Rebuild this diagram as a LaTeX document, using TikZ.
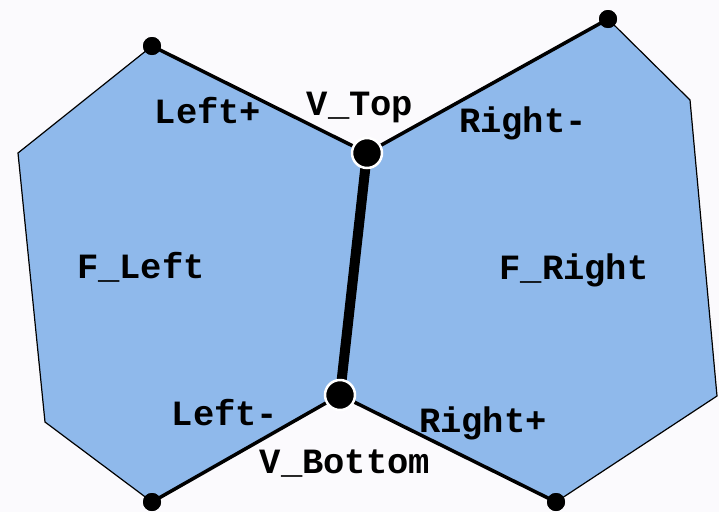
\documentclass[tikz,border=0pt]{standalone}
\usepackage{fontspec}
\newfontfamily\cour[BoldFont={Liberation Mono Bold}]{Liberation Mono}
\definecolor{bgc}{HTML}{FBFAFD}
\definecolor{face}{HTML}{8FB9EB}
\begin{document}
\begin{tikzpicture}[x=1pt,y=-1pt,
  facepoly/.style={fill=face,draw=black,line width=1.2pt,line join=miter},
  sdot/.style={circle,fill=black,inner sep=0pt,minimum size=18pt},
  bdot/.style={circle,fill=black,draw=white,line width=2.5pt,inner sep=0pt,minimum size=30pt},
  edgeline/.style={black,line width=3.5pt},
  midedge/.style={black,line width=10pt},
  lab/.style={font=\cour\bfseries\fontsize{35.5}{36}\selectfont,anchor=base,inner sep=0pt}]
\useasboundingbox (0,0) rectangle (719,512);
\fill[bgc] (0,0) rectangle (719,512);
% coordinates
\coordinate (LT) at (152,46);
\coordinate (LC1) at (18,153);
\coordinate (LC2) at (45,422);
\coordinate (LB) at (152,502);
\coordinate (VBc) at (340,395);
\coordinate (VTc) at (367,153);
\coordinate (RT) at (608,19);
\coordinate (RC1) at (690,100);
\coordinate (RC2) at (717,396);
\coordinate (RB) at (556,502);
% faces
\draw[facepoly] (VTc) -- (LT) -- (LC1) -- (LC2) -- (LB) -- (VBc) -- cycle;
\draw[facepoly] (VTc) -- (RT) -- (RC1) -- (RC2) -- (RB) -- (VBc) -- cycle;
% dots
\node[sdot] (lt) at (LT) {};
\node[sdot] (lb) at (LB) {};
\node[sdot] (rt) at (RT) {};
\node[sdot] (rb) at (RB) {};
% edges
\draw[edgeline] (lt.center) -- (VTc);
\draw[edgeline] (rt.center) -- (VTc);
\draw[edgeline] (lb.center) -- (VBc);
\draw[edgeline] (rb.center) -- (VBc);
\draw[midedge] (VTc) -- (VBc);
\node[sdot] at (LT) {};
\node[sdot] at (LB) {};
\node[sdot] at (RT) {};
\node[sdot] at (RB) {};
\node[bdot] (vt) at (VTc) {};
\node[bdot] (vb) at (VBc) {};
% labels
\node[lab] (lplus) at (208,123) {Left+};
\node[lab] (vtop) at (360,115) {V\_Top};
\node[lab] (rminus) at (523,132) {Right-};
\node[lab] (fleft) at (141,278) {F\_Left};
\node[lab] (fright) at (574,279) {F\_Right};
\node[lab] (lminus) at (225,425) {Left-};
\node[lab] (rplus) at (483,432) {Right+};
\node[lab] (vbot) at (345,473) {V\_Bottom};
\end{tikzpicture}
\end{document}
